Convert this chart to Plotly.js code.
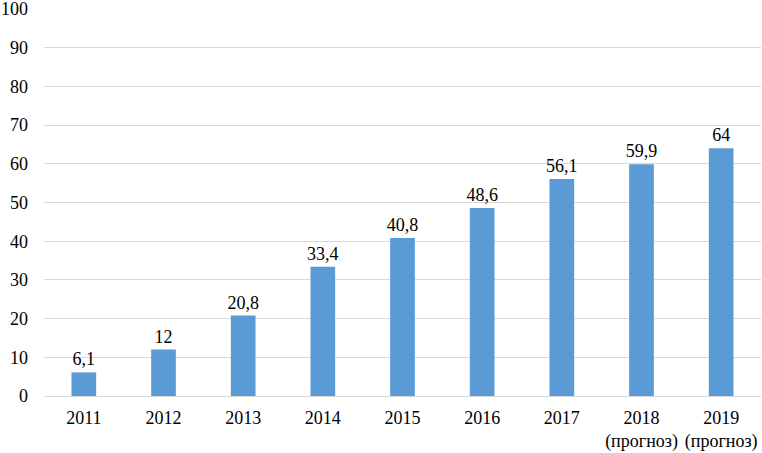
<!DOCTYPE html>
<html><head><meta charset="utf-8">
<script src="https://cdn.plot.ly/plotly-3.0.1.min.js"></script>
<style>body{margin:0;padding:0;background:#fff}#c{width:762px;height:453px}</style>
</head><body><div id="c"></div>
<script>
const categories = ["2011","2012","2013","2014","2015","2016","2017","2018<br>(прогноз)","2019<br>(прогноз)"];
const values = [6.1, 12, 20.8, 33.4, 40.8, 48.6, 56.1, 59.9, 64];
const labels = ["6,1","12","20,8","33,4","40,8","48,6","56,1","59,9","64"];
const yTicks = [0,10,20,30,40,50,60,70,80,90,100];
const FONT = 'Times New Roman, Liberation Serif, Times, serif';

Plotly.newPlot('c', [{
  type: 'bar',
  x: categories,
  y: values,
  text: labels,
  textposition: 'outside',
  constraintext: 'none',
  cliponaxis: false,
  textfont: {family: FONT, size: 18, color: '#000'},
  marker: {color: '#5B9BD5'},
  hoverinfo: 'none'
}], {
  width: 762, height: 453,
  margin: {l: 44, r: 1, t: 9, b: 57},
  bargap: 0.69,
  showlegend: false,
  paper_bgcolor: '#fff', plot_bgcolor: '#fff',
  font: {family: FONT, size: 18, color: '#000'},
  xaxis: {type: 'category', showgrid: false, showline: false, ticks: '', tickfont: {family: FONT, size: 18}, ticklabelstandoff: 9},
  yaxis: {range: [0, 100], tickvals: yTicks, ticktext: yTicks.map(String), showgrid: true, gridcolor: '#d9d9d9', gridwidth: 1,
          zeroline: true, zerolinecolor: '#d9d9d9', zerolinewidth: 1, showline: false, ticks: '', ticklabeloverflow: 'allow',
          tickfont: {family: FONT, size: 18}, ticklabelstandoff: 15}
}, {displayModeBar: false, staticPlot: true});
</script></body></html>
